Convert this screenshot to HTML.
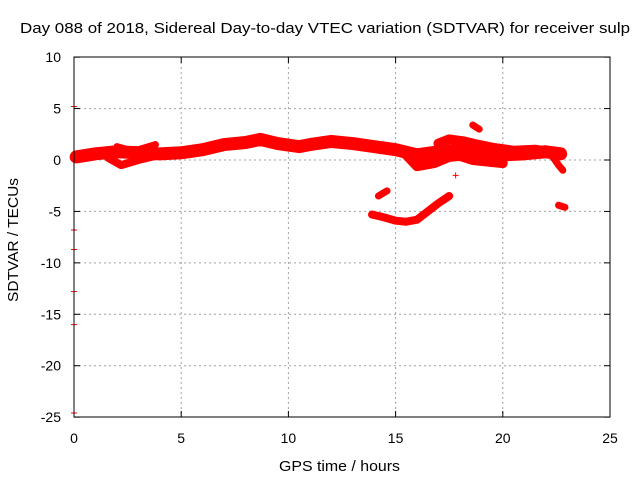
<!DOCTYPE html>
<html><head><meta charset="utf-8"><style>
body{margin:0;background:#fff}
svg text{font-family:"Liberation Sans",sans-serif;font-size:14px;fill:#000}
</style></head><body>
<svg id="c" width="640" height="480">
<text x="20" y="33" textLength="610" lengthAdjust="spacingAndGlyphs" style="font-size:15px">Day 088 of 2018, Sidereal Day-to-day VTEC variation (SDTVAR) for receiver sulp</text>
<text x="279" y="471" textLength="121" lengthAdjust="spacingAndGlyphs" style="font-size:15px">GPS time / hours</text>
<text transform="translate(18,302) rotate(-90)" textLength="124" lengthAdjust="spacingAndGlyphs" style="font-size:15px">SDTVAR / TECUs</text>
<g id="grid"></g><g id="marks"></g>
<rect x="74" y="57" width="536" height="360" fill="none" stroke="#000"/>
</svg>
<script>
const xTicks=[0,5,10,15,20,25];
const yTicks=[10,5,0,-5,-10,-15,-20,-25];
const mainX=[0.1,1,2,3,4,5,6,7,8,8.7,9.5,10.5,11,12,13,14,15,16,17,18,19,20,21,22,22.7];
const mainY=[0.3,0.6,0.8,0.7,0.6,0.7,1.0,1.5,1.7,2.0,1.6,1.3,1.5,1.8,1.6,1.3,1.0,0.5,0.8,0.9,0.8,0.5,0.6,0.8,0.6];
const lowStrandX=[1.6,2.2,3,4];const lowStrandY=[0.2,-0.5,0,0.5];
const upStrandX=[2,2.5,3,3.8];const upStrandY=[1.3,1.0,1.0,1.5];
const branchX=[15.5,16,16.8,17.5,18,18.6,19.5,20];const branchY=[0.5,-0.6,-0.3,0.3,0.4,0.0,-0.2,-0.3];
const upperX=[17,17.5,18.2,18.8,19.5,20.5,21.5,22.5];const upperY=[1.6,2.0,1.8,1.5,1.2,0.9,1.0,0.7];
const tailX=[22.3,22.6,22.8];const tailY=[0.4,-0.5,-1.0];
const blob1X=[18.6,18.9];const blob1Y=[3.4,3.0];
const blob2X=[14.2,14.6];const blob2Y=[-3.5,-3.0];
const arcX=[13.9,14.5,15,15.5,16,16.5,17,17.5];const arcY=[-5.3,-5.6,-5.9,-6.0,-5.8,-5.0,-4.2,-3.5];
const blob3X=[22.6,22.9];const blob3Y=[-4.4,-4.6];
const ptsX=[17.8,0,0,0,0,0,0];const ptsY=[-1.5,5.2,-6.8,-8.7,-12.8,-16,-24.6];
const sx=h=>74+h*21.44, sy=v=>160-v*10.2857;
const NS="http://www.w3.org/2000/svg";
const grid=document.getElementById('grid'),marks=document.getElementById('marks');
function mk(t,a,p){const e=document.createElementNS(NS,t);for(const k in a)e.setAttribute(k,a[k]);p.appendChild(e);return e;}
xTicks.forEach(t=>{const x=sx(t);
 if(t>0&&t<25){const l=mk('line',{x1:x,x2:x,y1:57,y2:417,stroke:'#a0a0a0','stroke-dasharray':'2,3'},grid);
 
 }
 mk('line',{x1:x,x2:x,y1:417,y2:411,stroke:'#000'},grid);mk('line',{x1:x,x2:x,y1:57,y2:63,stroke:'#000'},grid);
 const tx=mk('text',{x:x,y:443,'text-anchor':'middle'},grid);tx.textContent=t;
 
 });
yTicks.forEach(t=>{const y=sy(t);
 if(t<10&&t>-25){const l=mk('line',{x1:74,x2:610,y1:y,y2:y,stroke:'#a0a0a0','stroke-dasharray':'2,3'},grid);
 
 }
 mk('line',{x1:74,x2:80,y1:y,y2:y,stroke:'#000'},grid);mk('line',{x1:610,x2:604,y1:y,y2:y,stroke:'#000'},grid);
 const tx=mk('text',{x:61,y:y+5,'text-anchor':'end'},grid);tx.textContent=t;
 
 });
function track(xs,ys,w,name){
 const p=mk('polyline',{points:xs.map((x,i)=>sx(x)+','+sy(ys[i])).join(' '),fill:'none',stroke:'#ff0000','stroke-width':w,'stroke-linejoin':'round','stroke-linecap':'round'},marks);
 
 }
track(mainX,mainY,13,'main-band');
track(lowStrandX,lowStrandY,8,'low-strand');
track(upStrandX,upStrandY,7,'up-strand');
track(branchX,branchY,10,'branch-band');
track(upperX,upperY,10,'upper-band');
track(tailX,tailY,7,'tail-band');
track(blob1X,blob1Y,7,'blob-upper');
track(blob2X,blob2Y,7,'blob-mid');
track(arcX,arcY,8,'lower-arc');
track(blob3X,blob3Y,7,'blob-right');
ptsX.forEach((x,i)=>{const X=sx(x),Y=sy(ptsY[i]);
 const p=mk('path',{d:`M${X-3},${Y}h6M${X},${Y-3}v6`,stroke:'#ff0000','stroke-width':1},marks);
 
 });
</script>
</body></html>
